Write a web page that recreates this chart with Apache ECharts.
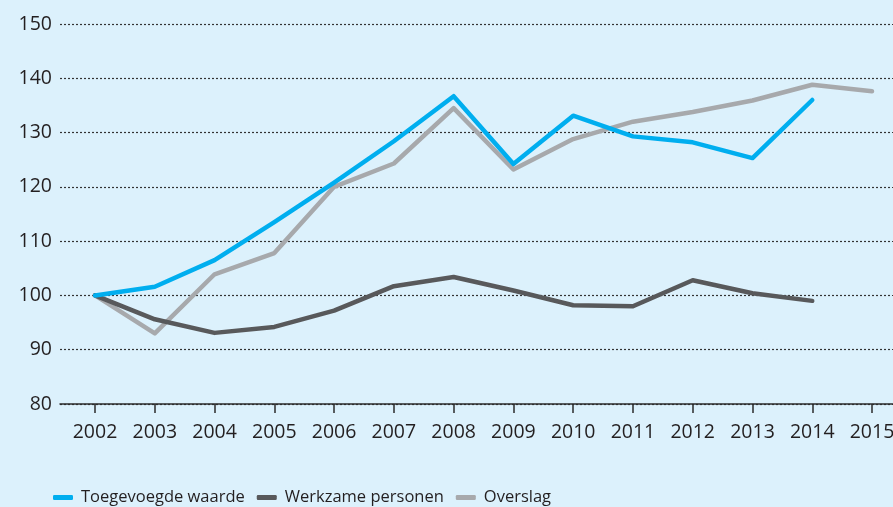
<!DOCTYPE html>
<html>
<head>
<meta charset="utf-8">
<script src="https://cdn.jsdelivr.net/npm/echarts@6/dist/echarts.min.js"></script>
<style>
  html, body { margin: 0; padding: 0; background: #dcf1fc; }
  #chart { width: 893px; height: 507px; }
</style>
</head>
<body>
<div id="chart"></div>
<script>
// Toegevoegde waarde / werkzame personen / overslag, index 2002 = 100
const years = [2002, 2003, 2004, 2005, 2006, 2007, 2008, 2009, 2010, 2011, 2012, 2013, 2014, 2015];
const toegevoegd = [100, 101.6, 106.5, 113.5, 120.8, 128.4, 136.7, 124.2, 133.1, 129.3, 128.2, 125.3, 136.0, null];
const werkzaam = [100, 95.6, 93.1, 94.2, 97.2, 101.7, 103.4, 100.9, 98.2, 98.0, 102.8, 100.4, 99.0, null];
const overslag = [100, 93.0, 103.9, 107.8, 120.0, 124.3, 134.5, 123.2, 128.8, 132.0, 133.8, 135.9, 138.8, 137.6];
const yTicks = [80, 90, 100, 110, 120, 130, 140, 150];

const FONT = "'Open Sans', 'Noto Sans', sans-serif";
const TXT = '#231f20';

function pairs(vals) {
  return years.map((y, i) => [y, vals[i]]);
}

const chart = echarts.init(document.getElementById('chart'), null, { renderer: 'canvas' });

function lineSeries(name, vals, color, z) {
  return {
    name: name, type: 'line', data: pairs(vals), z: z,
    symbol: 'none', connectNulls: false,
    lineStyle: { color: color, width: 4.5, cap: 'round', join: 'round' },
    itemStyle: { color: color },
    emphasis: { disabled: true }
  };
}

chart.setOption({
  backgroundColor: '#dcf1fc',
  animation: false,
  textStyle: { fontFamily: FONT },
  grid: { left: 60, right: 0, top: 24, bottom: 103, outerBoundsMode: 'none' },
  legend: {
    left: 53, top: 489, padding: 0,
    itemWidth: 20, itemHeight: 5, itemGap: 12,
    icon: 'roundRect',
    textStyle: { fontFamily: FONT, fontSize: 16.5, color: TXT, padding: [0, 0, 0, 3] },
    data: ['Toegevoegde waarde', 'Werkzame personen', 'Overslag']
  },
  xAxis: {
    type: 'value',
    min: 2001.414, max: 2015.351,
    axisLine: { show: true, onZero: false, lineStyle: { color: '#2b2b2b', width: 1.5 } },
    axisTick: { show: true, customValues: years, length: 9, lineStyle: { color: '#2b2b2b', width: 1.5 } },
    axisLabel: {
      customValues: years, margin: 18,
      fontFamily: FONT, fontSize: 19.5, color: TXT,
      formatter: v => String(Math.round(v))
    },
    splitLine: { show: false }
  },
  yAxis: {
    type: 'value',
    min: yTicks[0], max: yTicks[yTicks.length - 1], interval: 10,
    axisLine: { show: false },
    axisTick: { show: false },
    axisLabel: { margin: 8, fontFamily: FONT, fontSize: 19.5, color: TXT },
    splitLine: { show: true, lineStyle: { color: '#333', width: 1.2, type: [2, 2] } }
  },
  series: [
    lineSeries('Toegevoegde waarde', toegevoegd, '#00aeef', 4),
    lineSeries('Werkzame personen', werkzaam, '#58595b', 3),
    lineSeries('Overslag', overslag, '#a7a9ac', 2)
  ]
});
</script>
</body>
</html>
